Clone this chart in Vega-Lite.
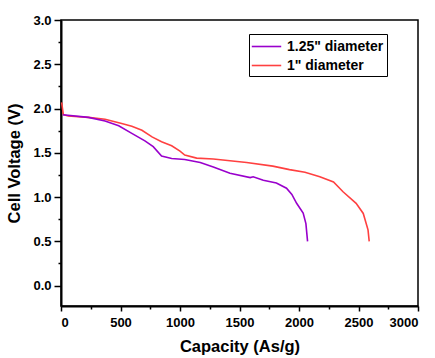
{
  "$schema": "https://vega.github.io/schema/vega-lite/v6.json",
  "autosize": "none",
  "padding": {"left": 61, "top": 20, "right": 17, "bottom": 52},
  "width": 357,
  "height": 286,
  "background": "white",
  "config": {
    "view": {"stroke": "black", "strokeWidth": 1.5},
    "axis": {
      "grid": false,
      "domainColor": "black",
      "domainWidth": 2,
      "tickColor": "black",
      "tickWidth": 1.5,
      "labelFont": "Liberation Sans",
      "labelFontWeight": "bold",
      "labelFontSize": 13,
      "labelColor": "black",
      "titleFont": "Liberation Sans",
      "titleFontWeight": "bold",
      "titleFontSize": 16.5,
      "titleColor": "black"
    },
    "legend": {
      "labelFont": "Liberation Sans",
      "labelFontWeight": "bold",
      "labelFontSize": 14,
      "labelColor": "black"
    }
  },
  "data": {
    "values": [
      {"cap": 5, "v": 2.07, "s": "1\" diameter"},
      {"cap": 20, "v": 1.93, "s": "1\" diameter"},
      {"cap": 60, "v": 1.915, "s": "1\" diameter"},
      {"cap": 230, "v": 1.9, "s": "1\" diameter"},
      {"cap": 370, "v": 1.88, "s": "1\" diameter"},
      {"cap": 510, "v": 1.83, "s": "1\" diameter"},
      {"cap": 595, "v": 1.8, "s": "1\" diameter"},
      {"cap": 680, "v": 1.755, "s": "1\" diameter"},
      {"cap": 765, "v": 1.68, "s": "1\" diameter"},
      {"cap": 845, "v": 1.625, "s": "1\" diameter"},
      {"cap": 930, "v": 1.58, "s": "1\" diameter"},
      {"cap": 1000, "v": 1.52, "s": "1\" diameter"},
      {"cap": 1040, "v": 1.475, "s": "1\" diameter"},
      {"cap": 1140, "v": 1.44, "s": "1\" diameter"},
      {"cap": 1280, "v": 1.43, "s": "1\" diameter"},
      {"cap": 1560, "v": 1.39, "s": "1\" diameter"},
      {"cap": 1780, "v": 1.35, "s": "1\" diameter"},
      {"cap": 1920, "v": 1.31, "s": "1\" diameter"},
      {"cap": 2050, "v": 1.28, "s": "1\" diameter"},
      {"cap": 2175, "v": 1.23, "s": "1\" diameter"},
      {"cap": 2290, "v": 1.17, "s": "1\" diameter"},
      {"cap": 2370, "v": 1.06, "s": "1\" diameter"},
      {"cap": 2480, "v": 0.93, "s": "1\" diameter"},
      {"cap": 2540, "v": 0.815, "s": "1\" diameter"},
      {"cap": 2580, "v": 0.63, "s": "1\" diameter"},
      {"cap": 2590, "v": 0.5, "s": "1\" diameter"},
      {"cap": 15, "v": 1.93, "s": "1.25\" diameter"},
      {"cap": 230, "v": 1.9, "s": "1.25\" diameter"},
      {"cap": 370, "v": 1.86, "s": "1.25\" diameter"},
      {"cap": 485, "v": 1.805, "s": "1.25\" diameter"},
      {"cap": 595, "v": 1.72, "s": "1.25\" diameter"},
      {"cap": 705, "v": 1.635, "s": "1.25\" diameter"},
      {"cap": 775, "v": 1.57, "s": "1.25\" diameter"},
      {"cap": 845, "v": 1.465, "s": "1.25\" diameter"},
      {"cap": 930, "v": 1.435, "s": "1.25\" diameter"},
      {"cap": 1040, "v": 1.425, "s": "1.25\" diameter"},
      {"cap": 1170, "v": 1.39, "s": "1.25\" diameter"},
      {"cap": 1280, "v": 1.34, "s": "1.25\" diameter"},
      {"cap": 1420, "v": 1.27, "s": "1.25\" diameter"},
      {"cap": 1590, "v": 1.22, "s": "1.25\" diameter"},
      {"cap": 1615, "v": 1.23, "s": "1.25\" diameter"},
      {"cap": 1700, "v": 1.19, "s": "1.25\" diameter"},
      {"cap": 1810, "v": 1.16, "s": "1.25\" diameter"},
      {"cap": 1895, "v": 1.1, "s": "1.25\" diameter"},
      {"cap": 1940, "v": 1.03, "s": "1.25\" diameter"},
      {"cap": 1980, "v": 0.93, "s": "1.25\" diameter"},
      {"cap": 2035, "v": 0.82, "s": "1.25\" diameter"},
      {"cap": 2058, "v": 0.7, "s": "1.25\" diameter"},
      {"cap": 2072, "v": 0.5, "s": "1.25\" diameter"}
    ]
  },
  "layer": [
    {
      "mark": {"type": "line", "strokeWidth": 1.6},
      "encoding": {
        "x": {
          "field": "cap", "type": "quantitative",
          "scale": {"domain": [0, 3000], "nice": false, "zero": false},
          "axis": {"values": [0, 500, 1000, 1500, 2000, 2500, 3000], "format": "d", "tickSize": 5, "labelPadding": 5, "title": "Capacity (As/g)", "titlePadding": 9}
        },
        "y": {
          "field": "v", "type": "quantitative",
          "scale": {"domain": [-0.23, 3.0], "nice": false, "zero": false},
          "axis": {"values": [0, 0.5, 1, 1.5, 2, 2.5, 3], "format": ".1f", "tickSize": 7, "labelPadding": 3, "title": "Cell Voltage (V)", "titlePadding": 10}
        },
        "color": {
          "field": "s", "type": "nominal",
          "scale": {"domain": ["1.25\" diameter", "1\" diameter"], "range": ["#9900CC", "#FF4040"]},
          "legend": {
            "title": null,
            "orient": "none",
            "legendX": 188,
            "legendY": 14,
            "symbolType": "M-1.7,0L1.7,0",
            "symbolSize": 300,
            "symbolOffset": 5,
            "symbolStrokeWidth": 1.6,
            "symbolFillColor": "transparent",
            "strokeColor": "black",
            "padding": 3,
            "labelOffset": 11,
            "rowPadding": 2,
            "fillColor": "white"
          }
        }
      }
    },
    {
      "mark": {"type": "point", "opacity": 0},
      "encoding": {
        "x": {
          "field": "cap", "type": "quantitative",
          "axis": {"orient": "bottom", "values": [250, 750, 1250, 1750, 2250, 2750], "labels": false, "domain": false, "tickSize": 3, "title": null}
        },
        "y": {
          "field": "v", "type": "quantitative",
          "axis": {"orient": "left", "values": [0.25, 0.75, 1.25, 1.75, 2.25, 2.75], "labels": false, "domain": false, "tickSize": 3, "title": null}
        }
      }
    }
  ],
  "resolve": {"axis": {"x": "independent", "y": "independent"}}
}
